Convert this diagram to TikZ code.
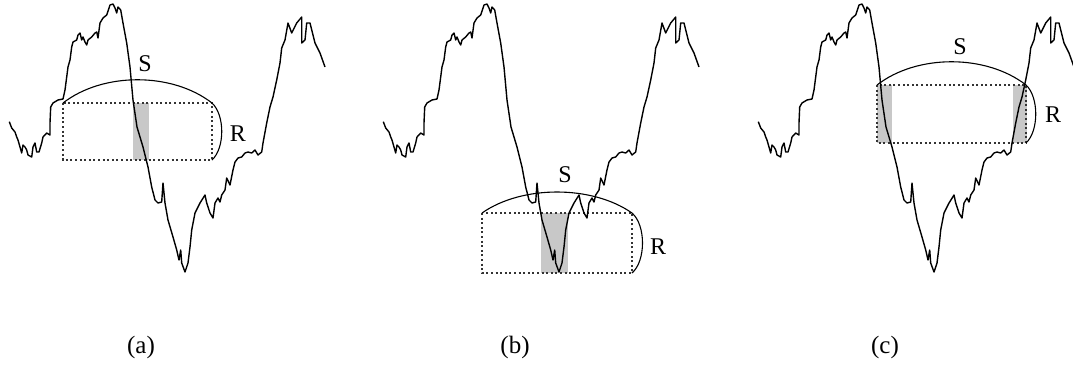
\documentclass[tikz,border=0pt]{standalone}
\usepackage{fontspec}
\setmainfont{Liberation Serif}
\usepackage{tikz}
\definecolor{shade}{HTML}{C8C8C8}

\tikzset{
  walk/.style={line width=1.4pt,line join=round},
  window/.style={line width=2pt,dash pattern=on 2pt off 2.6pt,black!80},
  hit/.style={fill=shade},
  bow/.style={line width=1.1pt},
  lbl/.style={font=\fontsize{24}{28}\selectfont,inner sep=0pt},
  sublabel/.style={font=\fontsize{25}{29}\selectfont,inner sep=0pt}
}

% one price path, shifted to the panel
\newcommand{\walkcurve}[1]{%
  \draw[walk,xshift=#1] (9.3,121.7) -- (11.7,128) -- (15,132) -- (16.7,137) -- (18,140) -- (20,147)
    -- (21.7,153) -- (23,145) -- (25,147) -- (26.7,150) -- (28,155) -- (31.7,157) -- (33,147)
    -- (35,143) -- (36.7,152) -- (39,152) -- (41.7,143) -- (43,137) -- (46.7,133) -- (50,135)
    -- (50,123) -- (50.7,107) -- (53,103) -- (58,100) -- (63,99) -- (65,90) -- (66.7,77)
    -- (68,67) -- (70,60) -- (71.7,47) -- (73,42) -- (76.7,40) -- (78,35) -- (80,33) -- (81.7,40)
    -- (83,37) -- (85,42) -- (86.7,45) -- (88,40) -- (91.7,37) -- (95,33) -- (96.7,32) -- (98,38)
    -- (100,23) -- (103,18) -- (106.7,15) -- (110,5) -- (113,4) -- (115,8) -- (116.7,13) -- (118,7)
    -- (120.7,10) -- (123,23) -- (126.7,43) -- (130,67) -- (133,100) -- (137,127) -- (143,147)
    -- (148,167) -- (151.7,187) -- (155,200) -- (158,203) -- (161.7,202) -- (163,183) -- (165,203)
    -- (168,220) -- (173,237) -- (176.7,250) -- (179,260) -- (180.7,250) -- (181.7,263) -- (185,272)
    -- (188,263) -- (190,247) -- (191.7,230) -- (195,213) -- (200,203) -- (205,195) -- (206.7,203)
    -- (210,213) -- (213,218) -- (215,203) -- (218,198) -- (220,202) -- (221.7,195) -- (225,190)
    -- (226.7,178) -- (230,185) -- (233,170) -- (235,162) -- (238,158) -- (241.7,157) -- (245,153)
    -- (248,152) -- (251.7,153) -- (255,150) -- (258,155) -- (261.7,152) -- (263,143) -- (266.7,123)
    -- (270,107) -- (273,97) -- (276.7,80) -- (280,63) -- (281.7,48) -- (285,40) -- (288,23)
    -- (291.7,33) -- (296.7,23) -- (301.7,17) -- (301.7,43) -- (305,40) -- (306.7,23) -- (310,23)
    -- (315,43) -- (320,53) -- (325,67);}

\begin{document}
\begin{tikzpicture}[x=1pt,y=-1pt]
  \useasboundingbox (0,0) rectangle (1073,368);
  \clip (0,0) rectangle (1073,368);

  % (a)
  \coordinate (a-tl) at (63,103);
  \coordinate (a-tr) at (212,103);
  \coordinate (a-br) at (212,160);
  \fill[hit] (133,103) rectangle (149,160);
  \draw[window] (a-tl) rectangle (a-br);
  \walkcurve{0pt}
  \draw[bow] (a-tl) .. controls +(40,-31) and +(-40,-31) .. (a-tr);
  \draw[bow] (a-tr) .. controls +(13,12) and +(13,-12) .. (a-br);
  \node[lbl] (a-s) at (145,64) {S};
  \node[lbl] (a-r) at (238,134) {R};
  \node[sublabel] (a-cap) at (141,347) {(a)};

  % (b)
  \coordinate (b-tl) at (482,213);
  \coordinate (b-tr) at (632,213);
  \coordinate (b-br) at (632,273);
  \fill[hit] (541,213) rectangle (568,273);
  \draw[window] (b-tl) rectangle (b-br);
  \walkcurve{374pt}
  \draw[bow] (b-tl) .. controls +(40,-28) and +(-40,-28) .. (b-tr);
  \draw[bow] (b-tr) .. controls +(14,12) and +(14,-12) .. (b-br);
  \node[lbl] (b-s) at (565,175) {S};
  \node[lbl] (b-r) at (658,247) {R};
  \node[sublabel] (b-cap) at (515,347) {(b)};

  % (c)
  \coordinate (c-tl) at (877,85);
  \coordinate (c-tr) at (1026,85);
  \coordinate (c-br) at (1026,143);
  \fill[hit] (877,85) rectangle (892,143);
  \fill[hit] (1013,85) rectangle (1027,143);
  \draw[window] (c-tl) rectangle (c-br);
  \walkcurve{749pt}
  \draw[bow] (c-tl) .. controls +(40,-31) and +(-40,-31) .. (c-tr);
  \draw[bow] (c-tr) .. controls +(13,12) and +(13,-12) .. (c-br);
  \node[lbl] (c-s) at (960,47) {S};
  \node[lbl] (c-r) at (1053,115) {R};
  \node[sublabel] (c-cap) at (885,347) {(c)};
\end{tikzpicture}
\end{document}
